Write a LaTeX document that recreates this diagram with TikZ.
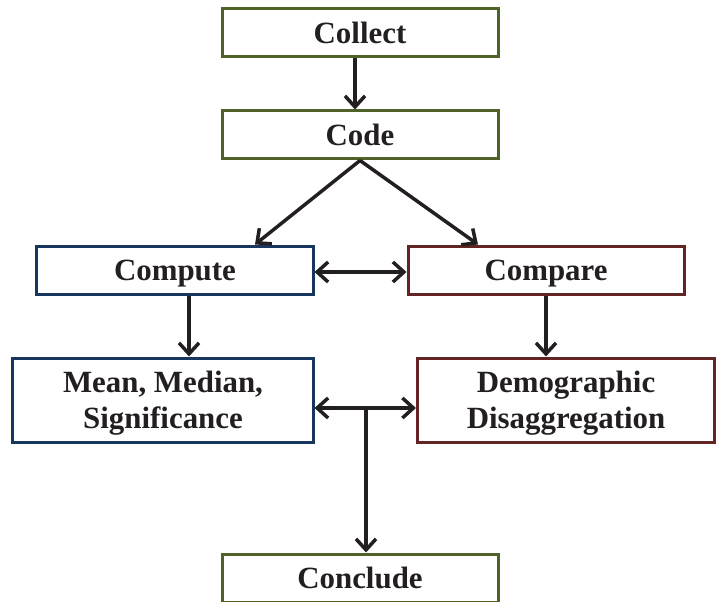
\documentclass[tikz,border=0pt]{standalone}
\usepackage{fontspec}
\setmainfont{Liberation Serif}
\usetikzlibrary{arrows.meta}

\definecolor{stagegreen}{HTML}{4F6228}
\definecolor{stageblue}{HTML}{17375E}
\definecolor{stagered}{HTML}{632523}
\definecolor{inkdark}{HTML}{231F20}

\tikzset{
	stage/.style={draw, line width=3bp, fill=white, text=inkdark, align=center,
		minimum width=276bp, minimum height=48bp, inner sep=0pt, text depth=0pt,
		font=\bfseries\fontsize{31}{36}\selectfont},
	flow/.style={-{Straight Barb[length=11bp,width=20bp]}, line width=3.5bp, draw=inkdark},
	twoway/.style={{Straight Barb[length=11bp,width=20bp]}-{Straight Barb[length=11bp,width=20bp]}, line width=3.5bp, draw=inkdark}
}

\begin{document}
\begin{tikzpicture}[x=1bp, y=-1bp]
		\clip (0,0) rectangle (723,602);

		% stages
		\node[stage, draw=stagegreen] (collect) at (360,33) {Collect};
		\node[stage, draw=stagegreen] (code) at (360,135) {Code};
		\node[stage, draw=stageblue] (compute) at (175,270) {Compute};
		\node[stage, draw=stagered] (compare) at (546,270) {Compare};
		\node[stage, draw=stageblue, minimum width=300bp, minimum height=84bp] (mean) at (163,400) {Mean, Median,\\Significance};
		\node[stage, draw=stagered, minimum width=297bp, minimum height=84bp] (demo) at (566,400) {Demographic\\Disaggregation};
		\node[stage, draw=stagegreen] (conclude) at (360,578) {Conclude};

		% connectors
		\draw[flow] ([xshift=-5bp]collect.south) -- ([xshift=-5bp]code.north);
		\draw[flow] (code.south) -- ([xshift=80bp]compute.north);
		\draw[flow] (code.south) -- ([xshift=-68bp]compare.north);
		\draw[twoway] ([yshift=-2bp]compute.east) -- ([yshift=-2bp]compare.west);
		\coordinate (cmpx) at ([xshift=14bp]compute.south);
		\draw[flow] (cmpx) -- (cmpx |- mean.north);
		\draw[flow] (compare.south) -- (compare.south |- demo.north);
		\draw[twoway] ([yshift=-8bp]mean.east) -- ([yshift=-8bp]demo.west);
		\coordinate (join) at ([yshift=-8bp, xshift=6bp]mean.east -| conclude.north);
		\draw[flow] (join) -- (join |- conclude.north);
	\end{tikzpicture}
\end{document}
